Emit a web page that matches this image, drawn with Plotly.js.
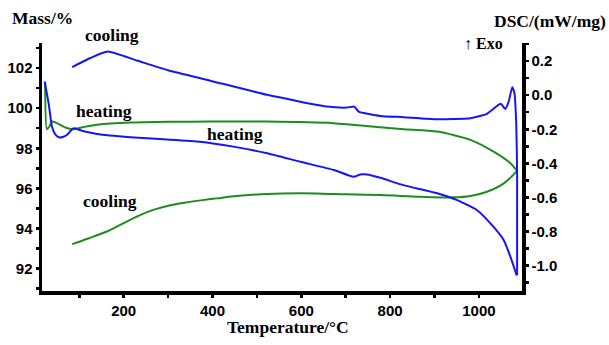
<!DOCTYPE html>
<html>
<head>
<meta charset="utf-8">
<script src="https://cdn.plot.ly/plotly-3.0.1.min.js"></script>
<style>html,body{margin:0;padding:0;background:#fff;}#chart{width:609px;height:345px;}</style>
</head>
<body>
<div id="chart"></div>
<script>
// DSC heating (blue)
var dscHeatT = [22, 31, 38.5, 46, 54, 63, 72, 87, 110, 140, 215, 290, 372, 447, 523, 598, 673, 718, 733, 748, 778, 830, 906, 951, 996, 1033, 1056, 1071, 1085];
var dscHeatV = [0.08, -0.05, -0.185, -0.23, -0.247, -0.245, -0.234, -0.194, -0.212, -0.228, -0.247, -0.259, -0.273, -0.302, -0.341, -0.391, -0.439, -0.479, -0.465, -0.465, -0.485, -0.528, -0.576, -0.616, -0.675, -0.773, -0.851, -0.949, -1.057];
// DSC cooling (blue)
var dscCoolT = [1086, 1086, 1086, 1084, 1080, 1075, 1067, 1059, 1050, 1044, 1018, 981, 906, 830, 778, 729, 719, 703, 658, 523, 395, 300, 230, 164, 125, 84];
var dscCoolV = [-1.057, -0.85, -0.46, -0.165, 0.012, 0.047, -0.038, -0.081, -0.051, -0.057, -0.110, -0.135, -0.141, -0.129, -0.122, -0.096, -0.067, -0.073, -0.067, 0.002, 0.085, 0.146, 0.203, 0.256, 0.218, 0.165];
// Mass heating (green)
var massHeatT = [23, 27, 33, 38.5, 47, 57, 70, 84, 110, 140, 215, 300, 395, 523, 673, 778, 830, 906, 981, 1033, 1071, 1086];
var massHeatV = [101.28, 98.95, 99.1, 99.33, 99.28, 99.17, 99.02, 98.95, 99.06, 99.17, 99.28, 99.32, 99.33, 99.33, 99.25, 99.05, 98.95, 98.83, 98.42, 97.83, 97.25, 96.87];
// Mass cooling (green)
var massCoolT = [1086, 1056, 1018, 981, 943, 868, 778, 673, 598, 523, 448, 410, 373, 340, 305, 270, 238, 200, 162, 120, 84];
var massCoolV = [96.87, 96.25, 95.83, 95.62, 95.55, 95.58, 95.67, 95.72, 95.75, 95.72, 95.6, 95.5, 95.4, 95.3, 95.16, 94.95, 94.68, 94.27, 93.85, 93.5, 93.22];

var xTicks = [200, 400, 600, 800, 1000];
var massTicks = [92, 94, 96, 98, 100, 102];
var dscTicks = [0.2, 0.0, -0.2, -0.4, -0.6, -0.8, -1.0];
var dscTickText = ['0.2', '0.0', '-0.2', '-0.4', '-0.6', '-0.8', '-1.0'];

var BLUE = 'rgb(22,22,240)';
var GREEN = 'rgb(30,140,30)';
var tickFont = {family: 'Liberation Sans', size: 15, color: '#000', weight: 700};
var serifFont = {family: 'Liberation Serif', size: 17.5, color: '#000', weight: 700};

var traces = [
  {x: massHeatT, y: massHeatV, yaxis: 'y', mode: 'lines', line: {color: GREEN, width: 2, shape: 'spline', smoothing: 0.6}, name: 'Mass heating'},
  {x: massCoolT, y: massCoolV, yaxis: 'y', mode: 'lines', line: {color: GREEN, width: 2, shape: 'spline', smoothing: 1}, name: 'Mass cooling'},
  {x: dscHeatT, y: dscHeatV, yaxis: 'y2', mode: 'lines', line: {color: BLUE, width: 2, shape: 'spline', smoothing: 0.5}, name: 'DSC heating'},
  {x: dscCoolT, y: dscCoolV, yaxis: 'y2', mode: 'lines', line: {color: BLUE, width: 2, shape: 'spline', smoothing: 0.5}, name: 'DSC cooling'}
];

var axisCommon = {showgrid: false, zeroline: false, showline: true, linecolor: '#000', linewidth: 3.5,
  ticks: 'outside', ticklen: 3, tickwidth: 2.5, tickcolor: '#000', tickfont: tickFont};

var layout = {
  width: 609, height: 345,
  margin: {l: 42, r: 87, t: 43, b: 54},
  paper_bgcolor: '#fff', plot_bgcolor: '#fff',
  showlegend: false,
  xaxis: Object.assign({}, axisCommon, {range: [16, 1097], tickvals: xTicks, ticktext: xTicks.map(String),
    minor: {dtick: 100, tick0: 0, ticks: 'outside', ticklen: 3, tickwidth: 2.5, tickcolor: '#000', showgrid: false}}),
  yaxis: Object.assign({}, axisCommon, {range: [90.88, 103.25], tickvals: massTicks, ticktext: massTicks.map(String),
    minor: {dtick: 1, tick0: 0, ticks: 'outside', ticklen: 3, tickwidth: 2.5, tickcolor: '#000', showgrid: false}}),
  yaxis2: Object.assign({}, axisCommon, {overlaying: 'y', side: 'right', range: [-1.149, 0.306], tickvals: dscTicks, ticktext: dscTickText,
    minor: {dtick: 0.1, tick0: 0, ticks: 'outside', ticklen: 3, tickwidth: 2.5, tickcolor: '#000', showgrid: false}}),
  annotations: [
    {text: 'Mass/%', xref: 'paper', yref: 'paper', x: 0.0, y: 1.1008, showarrow: false, font: serifFont, xanchor: 'center', yanchor: 'middle'},
    {text: 'DSC/(mW/mg)', xref: 'paper', yref: 'paper', x: 1.0583, y: 1.0887, showarrow: false, font: serifFont, xanchor: 'center', yanchor: 'middle'},
    {text: 'Temperature/°C', xref: 'paper', yref: 'paper', x: 0.5125, y: -0.145, showarrow: false, font: serifFont, xanchor: 'center', yanchor: 'middle'},
    {text: '↑ Exo', xref: 'paper', yref: 'paper', x: (483 - 42) / 480, y: (291 - 43) / 248, showarrow: false, font: {family: 'Liberation Serif', size: 16, color: '#000', weight: 700}, xanchor: 'center', yanchor: 'middle'},
    {text: 'cooling', xref: 'paper', yref: 'paper', x: (112 - 42) / 480, y: (291 - 35) / 248, showarrow: false, font: serifFont, xanchor: 'center', yanchor: 'middle'},
    {text: 'heating', xref: 'paper', yref: 'paper', x: (104 - 42) / 480, y: (291 - 111) / 248, showarrow: false, font: serifFont, xanchor: 'center', yanchor: 'middle'},
    {text: 'heating', xref: 'paper', yref: 'paper', x: (235 - 42) / 480, y: (291 - 134) / 248, showarrow: false, font: serifFont, xanchor: 'center', yanchor: 'middle'},
    {text: 'cooling', xref: 'paper', yref: 'paper', x: (110 - 42) / 480, y: (291 - 201) / 248, showarrow: false, font: serifFont, xanchor: 'center', yanchor: 'middle'}
  ]
};

Plotly.newPlot('chart', traces, layout, {staticPlot: true, displayModeBar: false});
</script>
</body>
</html>
